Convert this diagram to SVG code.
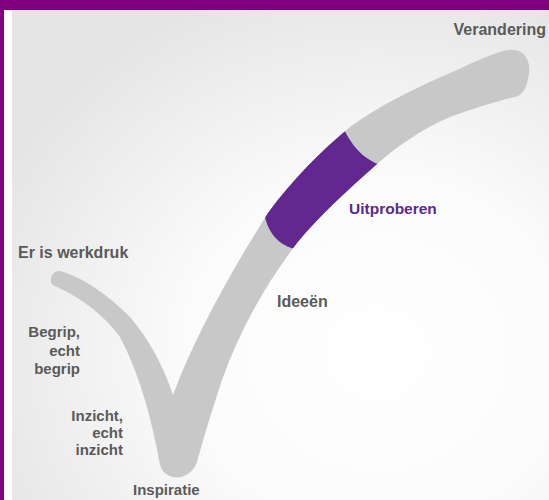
<svg xmlns="http://www.w3.org/2000/svg" width="549" height="500" viewBox="0 0 549 500">
<defs>
<radialGradient id="bg" cx="0.68" cy="0.7" r="0.8">
<stop offset="0" stop-color="#ffffff"/>
<stop offset="0.45" stop-color="#fbfbfb"/>
<stop offset="1" stop-color="#e4e4e4"/>
</radialGradient>
<clipPath id="checkClip">
<path d="M173,395 C195,335 235,265 268,213 C292,180 320,152 350,127 C380,105 415,88 450,73 C468,65 486,56 503,51 C520,46 531,56 529,73 C527,88 523,95 515,97 C500,100 470,110 450,117 C420,130 395,148 377,164 C350,188 320,215 297,243 C265,285 240,330 222,380 C212,410 203,440 197,462 C190,482 165,482 160,465 C152,420 140,375 120,337 C100,310 75,295 53,285 C48,281 52,270 60,271 C85,278 110,297 130,317 C150,340 165,370 173,395 Z"/>
</clipPath>
<style>
.lbl{font-family:"Liberation Sans",Arial,sans-serif;font-weight:bold;fill:#5a5a5a;font-size:15px}
</style>
</defs>
<rect x="0" y="0" width="549" height="500" fill="#800080"/>
<rect x="4" y="10" width="545" height="490" fill="#ffffff"/>
<rect x="12" y="10" width="537" height="490" fill="url(#bg)"/>
<g id="check">
<path d="M173,395 C195,335 235,265 268,213 C292,180 320,152 350,127 C380,105 415,88 450,73 C468,65 486,56 503,51 C520,46 531,56 529,73 C527,88 523,95 515,97 C500,100 470,110 450,117 C420,130 395,148 377,164 C350,188 320,215 297,243 C265,285 240,330 222,380 C212,410 203,440 197,462 C190,482 165,482 160,465 C152,420 140,375 120,337 C100,310 75,295 53,285 C48,281 52,270 60,271 C85,278 110,297 130,317 C150,340 165,370 173,395 Z" fill="#c8c8c8"/>
<path clip-path="url(#checkClip)" d="M335,112 C350,142 358,160 390,168 L405,200 L320,262 L305,250 C285,250 268,238 264,212 L250,200 Z" fill="#62288f"/>
</g>
<g id="verandering"><text class="lbl" x="546" y="35" text-anchor="end" style="font-size:16px">Verandering</text></g>
<g id="uitproberen"><text class="lbl" x="349" y="214" style="fill:#5b2a8c;font-size:15.5px">Uitproberen</text></g>
<g id="werkdruk"><text class="lbl" x="18" y="258" style="font-size:16px">Er is werkdruk</text></g>
<g id="ideeen"><text class="lbl" x="277" y="307" style="font-size:16px">Ideeën</text></g>
<g id="begrip"><text class="lbl" text-anchor="end"><tspan x="80" y="337">Begrip,</tspan><tspan x="80" y="356">echt</tspan><tspan x="80" y="374">begrip</tspan></text></g>
<g id="inzicht"><text class="lbl" text-anchor="end"><tspan x="123" y="421">Inzicht,</tspan><tspan x="123" y="438">echt</tspan><tspan x="123" y="455">inzicht</tspan></text></g>
<g id="inspiratie"><text class="lbl" x="133" y="495">Inspiratie</text></g>
<g id="connectors"></g>
</svg>
